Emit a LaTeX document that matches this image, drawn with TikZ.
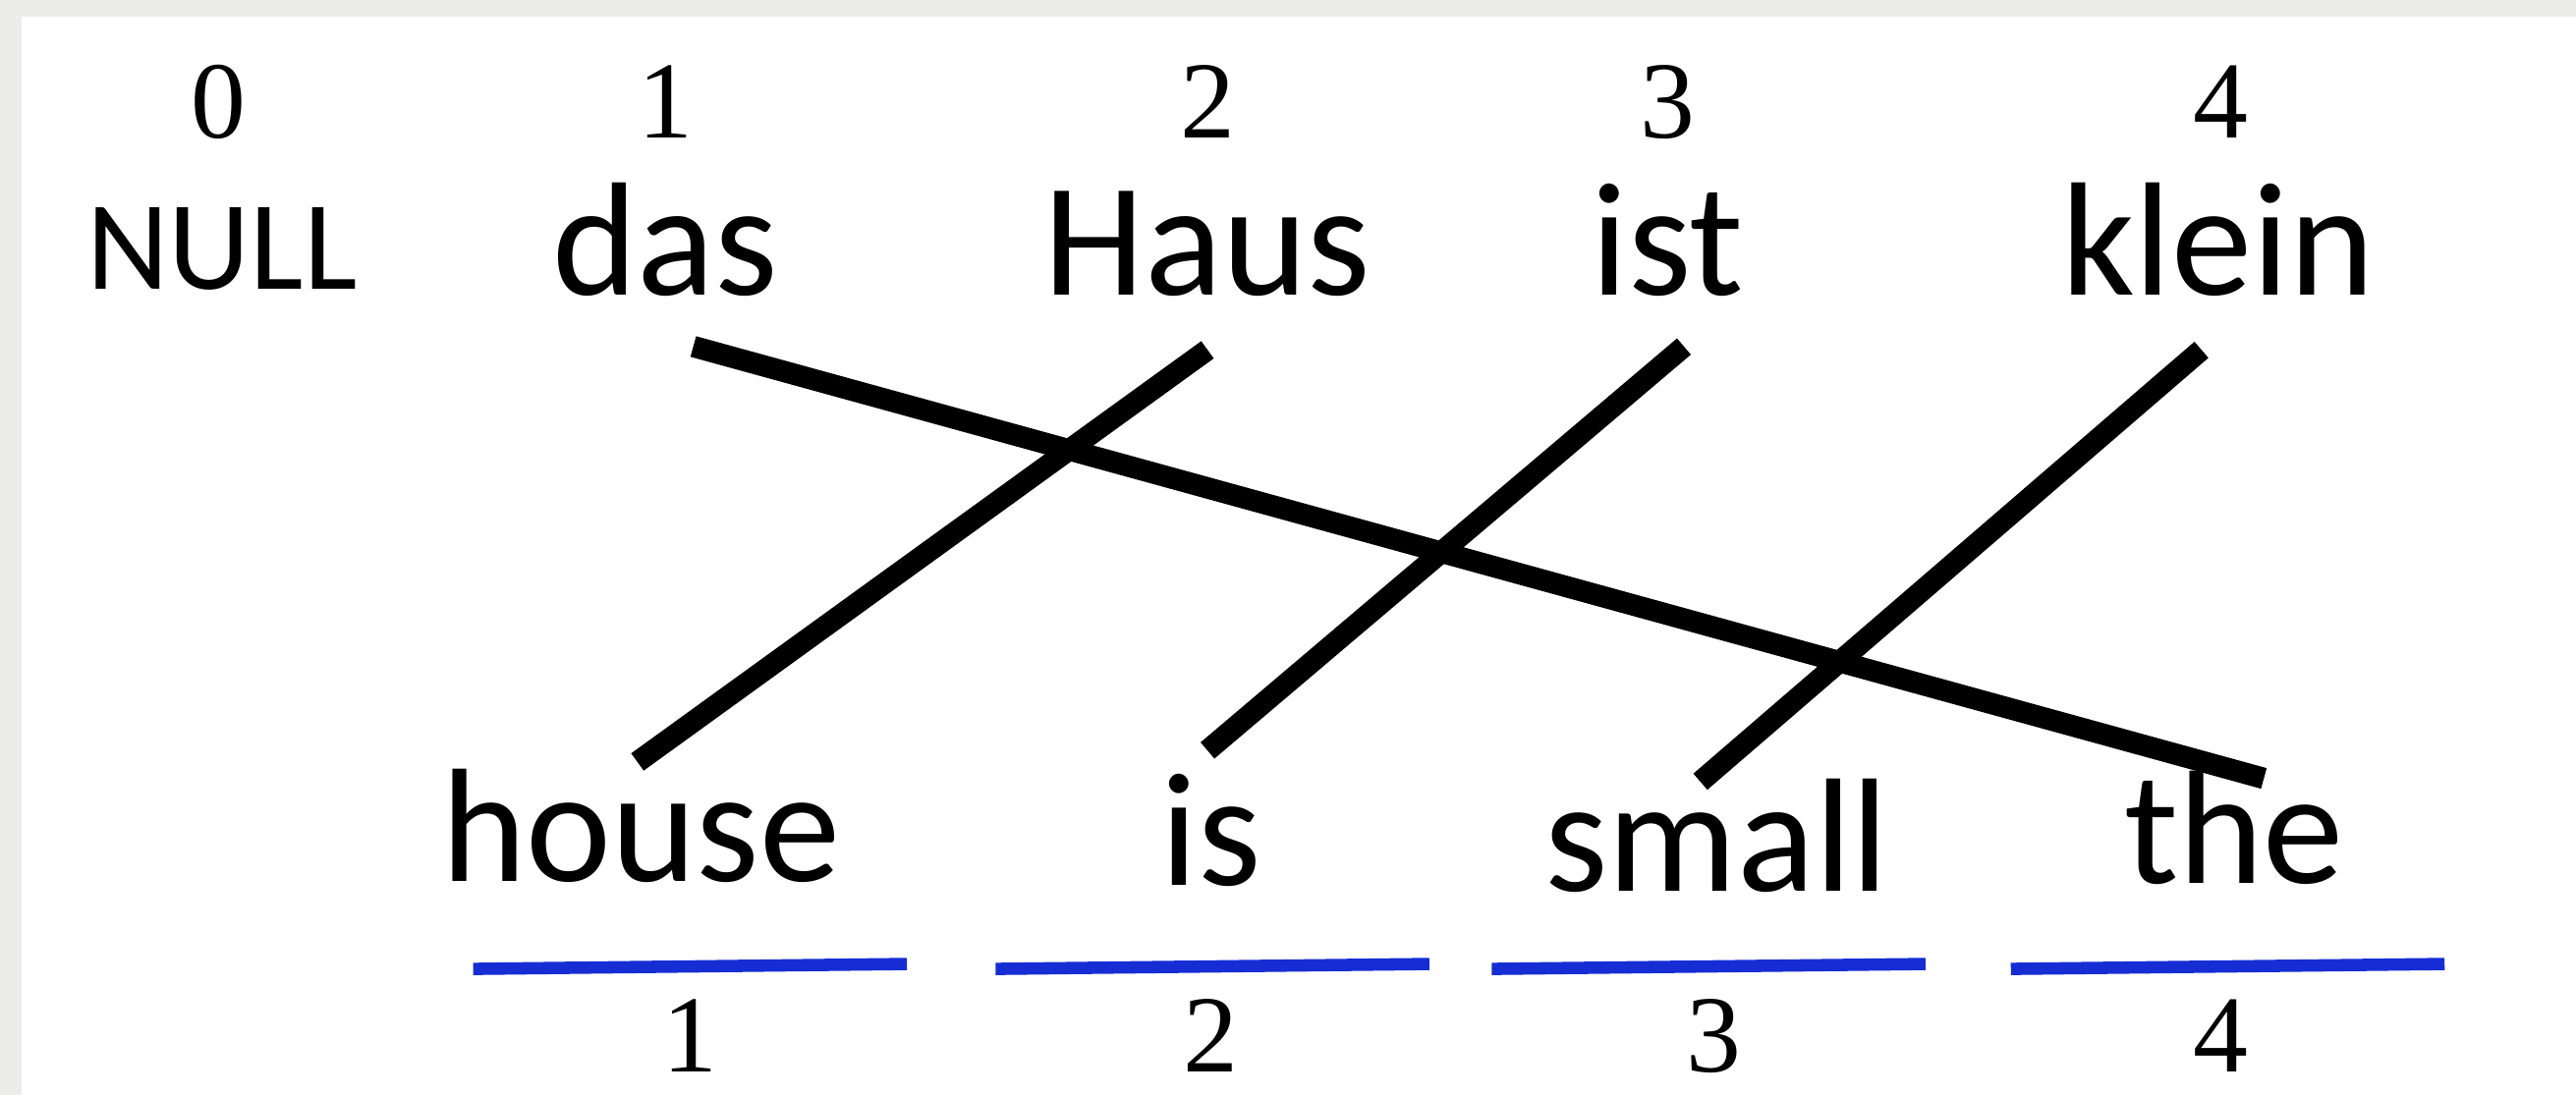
\documentclass[tikz,border=0pt]{standalone}
\usepackage{fontspec}
\setmainfont{Carlito}
\newfontfamily\numfont{Liberation Serif}
\definecolor{framegray}{RGB}{236,236,233}
\definecolor{ulblue}{RGB}{22,45,212}
\tikzset{
  word/.style={font=\fontsize{28}{28}\selectfont, inner sep=0pt, anchor=base},
  nullword/.style={font=\fontsize{22}{22}\selectfont, inner sep=0pt, anchor=base},
  idx/.style={font=\numfont\fontsize{19}{19}\selectfont, inner sep=0pt, anchor=base},
  link/.style={line width=1.3mm, line cap=butt},
  underl/.style={line width=0.75mm, ulblue}
}
\begin{document}
\begin{tikzpicture}[x=0.01cm, y=-0.01cm]
\useasboundingbox (0,0) rectangle (1568,667);
\fill[framegray] (0,0) rectangle (1568,667);
\fill[white] (13,10) rectangle (1568,667);
% top indices
\node[idx] (t0) at (133,84) {0};
\node[idx] (t1) at (405,84) {1};
\node[idx] (t2) at (735,84) {2};
\node[idx] (t3) at (1015,84) {3};
\node[idx] (t4) at (1352,84) {4};
% source words
\node[nullword] (null) at (135,176) {NULL};
\node[word] (das) at (405,180) {das};
\node[word] (haus) at (735,180) {Haus};
\node[word] (ist) at (1015,180) {ist};
\node[word] (klein) at (1350,180) {klein};
% target words
\node[word] (house) at (390,537) {house};
\node[word] (is) at (737,539) {is};
\node[word] (small) at (1045,543) {small};
\node[word] (the) at (1360,538) {the};
% underlines
\draw[underl] (288,590) -- (552,587);
\draw[underl] (606,590) -- (870,587);
\draw[underl] (908,590) -- (1172,587);
\draw[underl] (1224,590) -- (1488,587);
% bottom indices
\node[idx] (b1) at (420,653) {1};
\node[idx] (b2) at (737,653) {2};
\node[idx] (b3) at (1043,653) {3};
\node[idx] (b4) at (1352,653) {4};
% alignment links
\draw[link] ([shift={(17,31)}]das.base) -- ([shift={(18,-64)}]the.base);
\draw[link] ([shift={(0,33)}]haus.base) -- ([shift={(-2,-73)}]house.base);
\draw[link] ([shift={(10,31)}]ist.base) -- ([shift={(-2,-82)}]is.base);
\draw[link] ([shift={(-10,33)}]klein.base) -- ([shift={(-10,-67)}]small.base);
\end{tikzpicture}
\end{document}
